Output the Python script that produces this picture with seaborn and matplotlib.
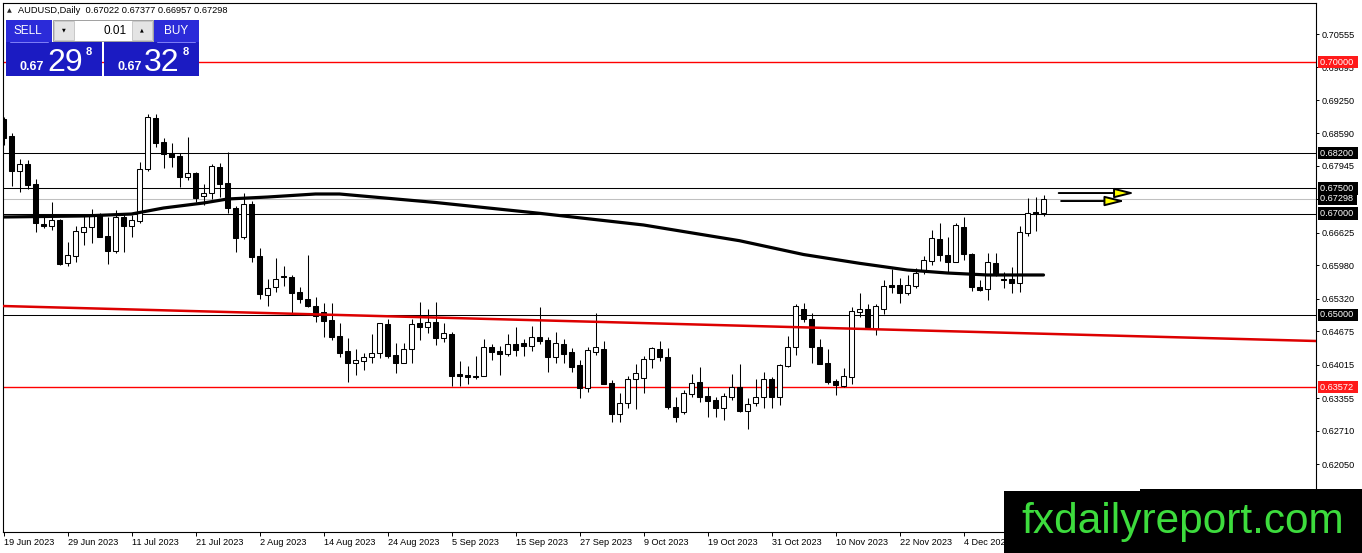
import numpy as np
import pandas as pd
import matplotlib
matplotlib.use("Agg")
import matplotlib.pyplot as plt
import matplotlib.transforms as mtransforms
from matplotlib.patches import Rectangle
import seaborn as sns

# Velas diarias AUDUSD
open_ = [
    0.68874, 0.68538, 0.67846, 0.67984, 0.67589, 0.66797, 0.66758, 0.66876, 0.66026, 0.66164,
    0.66639, 0.66738, 0.66975, 0.66560, 0.66263, 0.66936, 0.66758, 0.66857, 0.67885, 0.68894,
    0.68419, 0.68202, 0.68142, 0.67727, 0.67806, 0.67351, 0.67411, 0.67925, 0.67608, 0.67114,
    0.66540, 0.67193, 0.66164, 0.65393, 0.65551, 0.65769, 0.65749, 0.65452, 0.65314, 0.65175,
    0.65057, 0.64898, 0.64582, 0.64285, 0.64048, 0.64087, 0.64167, 0.64246, 0.64819, 0.64206,
    0.64048, 0.64325, 0.64839, 0.64760, 0.64859, 0.64542, 0.64622, 0.63830, 0.63811, 0.63791,
    0.63791, 0.64364, 0.64285, 0.64226, 0.64424, 0.64444, 0.64384, 0.64562, 0.64503, 0.64167,
    0.64424, 0.64265, 0.64008, 0.63553, 0.64265, 0.64325, 0.63652, 0.63039, 0.63257, 0.63731,
    0.63751, 0.64127, 0.64325, 0.64167, 0.63178, 0.63079, 0.63435, 0.63672, 0.63395, 0.63316,
    0.63158, 0.63375, 0.63573, 0.63098, 0.63257, 0.63375, 0.63731, 0.63375, 0.63989, 0.64364,
    0.65116, 0.64918, 0.64364, 0.64048, 0.63692, 0.63593, 0.63771, 0.65057, 0.65116, 0.64720,
    0.65116, 0.65591, 0.65591, 0.65432, 0.65571, 0.65887, 0.66065, 0.66501, 0.66184, 0.66046,
    0.66738, 0.66204, 0.65551, 0.65512, 0.66026, 0.65709, 0.65709, 0.65630, 0.66619, 0.67035,
    0.67022]
high = [
    0.68914, 0.68597, 0.68083, 0.68063, 0.67687, 0.66975, 0.67232, 0.66896, 0.66441, 0.66758,
    0.66975, 0.67094, 0.67015, 0.66936, 0.67074, 0.67015, 0.66975, 0.68024, 0.68973, 0.68973,
    0.68498, 0.68400, 0.68202, 0.68518, 0.67826, 0.67589, 0.67984, 0.68004, 0.68221, 0.67153,
    0.67411, 0.67252, 0.66323, 0.65709, 0.66125, 0.65967, 0.65789, 0.65551, 0.66184, 0.65353,
    0.65235, 0.65235, 0.64839, 0.64542, 0.64325, 0.64246, 0.64622, 0.64839, 0.64918, 0.64444,
    0.64444, 0.64918, 0.65254, 0.65116, 0.65254, 0.64839, 0.64661, 0.64087, 0.63989, 0.64186,
    0.64523, 0.64424, 0.64384, 0.64622, 0.64760, 0.64523, 0.64780, 0.65156, 0.64562, 0.64661,
    0.64523, 0.64345, 0.64107, 0.64364, 0.65037, 0.64483, 0.63712, 0.63454, 0.63791, 0.64028,
    0.64186, 0.64364, 0.64483, 0.64345, 0.63375, 0.63514, 0.63830, 0.63969, 0.63573, 0.63375,
    0.63454, 0.63830, 0.64028, 0.63356, 0.63731, 0.63870, 0.63771, 0.64028, 0.64582, 0.65215,
    0.65235, 0.65037, 0.64523, 0.64325, 0.63731, 0.63949, 0.65156, 0.65432, 0.65215, 0.65215,
    0.65690, 0.65907, 0.65729, 0.65789, 0.65927, 0.66164, 0.66679, 0.66817, 0.66540, 0.66817,
    0.66936, 0.66224, 0.65690, 0.66224, 0.66224, 0.65848, 0.65947, 0.66758, 0.67312, 0.67331,
    0.67377]
low = [
    0.68360, 0.67549, 0.67430, 0.67490, 0.66639, 0.66718, 0.66679, 0.65986, 0.65967, 0.66046,
    0.66382, 0.66422, 0.66540, 0.66006, 0.66224, 0.66243, 0.66540, 0.66817, 0.67846, 0.68320,
    0.67905, 0.67925, 0.67529, 0.67668, 0.67232, 0.67173, 0.67292, 0.67331, 0.67015, 0.66243,
    0.66501, 0.66046, 0.65314, 0.65175, 0.65452, 0.65571, 0.64997, 0.65235, 0.65156, 0.64859,
    0.64562, 0.64503, 0.64167, 0.63672, 0.63811, 0.63909, 0.64048, 0.64147, 0.64147, 0.63850,
    0.64048, 0.64048, 0.64503, 0.64641, 0.64404, 0.64463, 0.63593, 0.63593, 0.63633, 0.63731,
    0.63791, 0.64107, 0.63811, 0.64186, 0.64186, 0.64186, 0.64285, 0.64424, 0.63870, 0.64048,
    0.64048, 0.63870, 0.63356, 0.63474, 0.64206, 0.63633, 0.62881, 0.62881, 0.63158, 0.63138,
    0.63454, 0.63949, 0.64087, 0.63138, 0.62881, 0.63039, 0.63375, 0.63276, 0.62980, 0.62980,
    0.62920, 0.63316, 0.63079, 0.62742, 0.63197, 0.63158, 0.63158, 0.63217, 0.63969, 0.64206,
    0.64859, 0.64048, 0.64028, 0.63633, 0.63415, 0.63573, 0.63633, 0.64958, 0.64720, 0.64602,
    0.65017, 0.65432, 0.65235, 0.65393, 0.65531, 0.65808, 0.65986, 0.66065, 0.65828, 0.66046,
    0.66085, 0.65472, 0.65472, 0.65294, 0.65769, 0.65531, 0.65432, 0.65452, 0.66560, 0.66659,
    0.66957]
close = [
    0.68498, 0.67846, 0.67984, 0.67569, 0.66817, 0.66758, 0.66876, 0.66006, 0.66184, 0.66659,
    0.66738, 0.66956, 0.66540, 0.66263, 0.66936, 0.66758, 0.66876, 0.67885, 0.68914, 0.68400,
    0.68182, 0.68123, 0.67727, 0.67806, 0.67312, 0.67411, 0.67945, 0.67589, 0.67114, 0.66520,
    0.67193, 0.66145, 0.65413, 0.65531, 0.65709, 0.65749, 0.65432, 0.65314, 0.65175, 0.64978,
    0.64879, 0.64562, 0.64246, 0.64048, 0.64107, 0.64167, 0.64246, 0.64839, 0.64186, 0.64048,
    0.64325, 0.64819, 0.64760, 0.64859, 0.64542, 0.64641, 0.63791, 0.63791, 0.63771, 0.63771,
    0.64364, 0.64265, 0.64226, 0.64424, 0.64305, 0.64384, 0.64562, 0.64483, 0.64167, 0.64444,
    0.64226, 0.63969, 0.63553, 0.64305, 0.64364, 0.63633, 0.63039, 0.63257, 0.63731, 0.63850,
    0.64127, 0.64345, 0.64167, 0.63178, 0.62980, 0.63454, 0.63652, 0.63375, 0.63296, 0.63158,
    0.63395, 0.63573, 0.63098, 0.63237, 0.63375, 0.63731, 0.63375, 0.64008, 0.64364, 0.65175,
    0.64918, 0.64364, 0.64028, 0.63672, 0.63613, 0.63791, 0.65076, 0.65116, 0.64760, 0.65175,
    0.65571, 0.65551, 0.65432, 0.65591, 0.65828, 0.66085, 0.66520, 0.66184, 0.66046, 0.66778,
    0.66204, 0.65551, 0.65492, 0.66046, 0.65789, 0.65690, 0.65630, 0.66639, 0.67015, 0.66995,
    0.67298]

ma_idx = [0, 10, 16, 20, 25, 28, 33, 39, 42, 54, 67, 80, 92, 100, 107, 113, 118, 123, 130]
ma_val = [0.66936, 0.66956, 0.66995, 0.67114, 0.67213, 0.67292, 0.67331, 0.67391, 0.67391,
          0.67223, 0.67009, 0.66778, 0.66467, 0.66194, 0.66020, 0.65887, 0.65828, 0.65789, 0.65789]

# Linha de tendencia vermelha
trend_idx = [-0.0625, 164.06]
trend_val = [0.65175, 0.64483]

# Niveis horizontais
black_levels = [0.68200, 0.67500, 0.67000, 0.65000]
red_levels = [0.70000, 0.63572]
bid = 0.67298

# Setas amarelas
arrow_y = [0.67410, 0.67252]
arrow_start = [131.9, 132.2]
arrow_end = [141.4, 140.2]

date_labels = ["19 Jun 2023", "29 Jun 2023", "11 Jul 2023", "21 Jul 2023", "2 Aug 2023",
               "14 Aug 2023", "24 Aug 2023", "5 Sep 2023", "15 Sep 2023", "27 Sep 2023",
               "9 Oct 2023", "19 Oct 2023", "31 Oct 2023", "10 Nov 2023", "22 Nov 2023",
               "4 Dec 2023"]
price_ticks = [0.70555, 0.69895, 0.69250, 0.68590, 0.67945, 0.67285, 0.66625, 0.65980,
               0.65320, 0.64675, 0.64015, 0.63355, 0.62710, 0.62050, 0.61390]

df = pd.DataFrame({"open": open_, "high": high, "low": low, "close": close})
df["idx"] = np.arange(len(df))
df["up"] = df["close"] > df["open"]

sns.set_style("white")
plt.rcParams["font.family"] = ["Liberation Sans", "DejaVu Sans"]

W, H = 1362, 553
fig = plt.figure(figsize=(W / 100, H / 100), dpi=100)
ax = fig.add_axes([3 / W, 1 - 532 / H, (1316 - 3) / W, (532 - 3) / H])

# niveis
for lv in black_levels:
    ax.axhline(lv, color="black", lw=0.75, zorder=1)
for lv in red_levels:
    ax.axhline(lv, color="#ff0000", lw=1.0, zorder=1.2)
ax.axhline(bid, color="#c0c0c0", lw=0.75, zorder=1)

# velas
ax.vlines(df["idx"], df["low"], df["high"], color="black", lw=0.75, zorder=2)
body_lo = df[["open", "close"]].min(axis=1)
body_h = (df["close"] - df["open"]).abs()
ax.bar(df["idx"], body_h, bottom=body_lo, width=0.55,
       color=np.where(df["up"], "white", "black"), edgecolor="black",
       linewidth=0.75, zorder=3)

# media movel e tendencia
sns.lineplot(x=ma_idx, y=ma_val, color="black", lw=2.3, ax=ax, zorder=4)
sns.lineplot(x=trend_idx, y=trend_val, color="#dd0000", lw=1.8, ax=ax, zorder=4)

# setas
for y0, xs, xe in zip(arrow_y, arrow_start, arrow_end):
    ax.annotate("", xy=(xe, y0), xytext=(xs, y0),
                arrowprops=dict(arrowstyle="-|>,head_length=1.2,head_width=0.3",
                                fc="#ffff00", ec="black", lw=1.4,
                                shrinkA=0, shrinkB=0), zorder=6)

ax.set_xlim(-0.0625, 164.06)
ax.set_ylim(0.60705, 0.71169)

ax.set_xticks(df["idx"].values[::8][:len(date_labels)])
ax.set_xticklabels(date_labels)
for lbl in ax.get_xticklabels():
    lbl.set_ha("left")
ax.tick_params(axis="x", direction="out", length=3, width=0.7, pad=1.5,
               labelsize=6.6, colors="black", bottom=True)

ax.yaxis.tick_right()
ax.set_yticks(price_ticks)
ax.set_yticklabels([f"{v:.5f}" for v in price_ticks])
ax.tick_params(axis="y", direction="out", length=2.5, width=0.7, pad=1.5,
               labelsize=6.6, colors="black", right=True, left=False)
ax.set_xlabel("")
ax.set_ylabel("")
for s in ax.spines.values():
    s.set_color("black")
    s.set_linewidth(0.8)

# caixas de preco no eixo direito
trans = mtransforms.blended_transform_factory(ax.transAxes, ax.transData)
boxes = [(0.70000, "#ff1a1a"), (0.68200, "black"), (0.67500, "black"),
         (bid, "black"), (0.67000, "black"), (0.65000, "black"), (0.63572, "#ff1a1a")]
for lv, col in boxes:
    ax.text(1.0031, lv, f"{lv:.5f} ", transform=trans, color="white", fontsize=6.6,
            va="center", ha="left", clip_on=False, zorder=7,
            bbox=dict(boxstyle="square,pad=0.2", fc=col, ec="none"))

# camada de sobreposicao (painel, cabecalho, marca d'agua)
ov = fig.add_axes([0, 0, 1, 1], zorder=5)
ov.set_xlim(0, W)
ov.set_ylim(H, 0)
ov.axis("off")
ov.patch.set_alpha(0)

ov.text(7, 10.5, "▲", fontsize=4.5, va="center", ha="left", family=["DejaVu Sans"])
ov.text(18, 10.5, "AUDUSD,Daily  0.67022 0.67377 0.66957 0.67298", fontsize=6.7,
        va="center", ha="left", color="black")

ov.add_patch(Rectangle((6, 20), 46, 22, fc="#2b2bd9", ec="none"))
ov.add_patch(Rectangle((154, 20), 45, 22, fc="#2b2bd9", ec="none"))
ov.add_patch(Rectangle((53, 20), 100, 21, fc="white", ec="#a0a0a0", lw=0.7))
ov.add_patch(Rectangle((54, 21), 20, 19, fc="#e4e4e4", ec="#b8b8b8", lw=0.5))
ov.add_patch(Rectangle((132, 21), 20, 19, fc="#e4e4e4", ec="#b8b8b8", lw=0.5))
ov.add_patch(Rectangle((6, 42), 96, 34, fc="#1b1bc2", ec="none"))
ov.add_patch(Rectangle((104, 42), 95, 34, fc="#1b1bc2", ec="none"))
ov.plot([10, 48], [41.5, 41.5], color="#9090ff", lw=0.6)
ov.plot([157, 195], [41.5, 41.5], color="#9090ff", lw=0.6)

ov.text(28, 30.5, "SELL", color="white", fontsize=8.5, ha="center", va="center")
ov.text(176, 30.5, "BUY", color="white", fontsize=8.5, ha="center", va="center")
ov.text(127, 30.5, "0.01", color="black", fontsize=8.5, ha="right", va="center")
ov.text(64, 30, "▼", color="black", fontsize=3.5, ha="center", va="center",
        family=["DejaVu Sans"])
ov.text(142, 30, "▲", color="black", fontsize=3.5, ha="center", va="center",
        family=["DejaVu Sans"])
for x0, big in [(20, "29"), (117, "32")]:
    ov.text(x0, 70, "0.67", color="white", fontsize=9, fontweight="bold",
            ha="left", va="baseline")
    ov.text(x0 + 27, 71, big, color="white", fontsize=23, ha="left", va="baseline")
    ov.text(x0 + 66, 55, "8", color="white", fontsize=8, fontweight="bold",
            ha="left", va="baseline")

ov.add_patch(Rectangle((1004, 491), W - 1004, H - 491, fc="black", ec="none"))
ov.add_patch(Rectangle((1140, 489), W - 1140, 4, fc="black", ec="none"))
ov.text(1021, 533, "fxdailyreport.com", color="#3ddc3d", fontsize=30.5,
        ha="left", va="baseline")

fig.savefig("out.png", dpi=100)
